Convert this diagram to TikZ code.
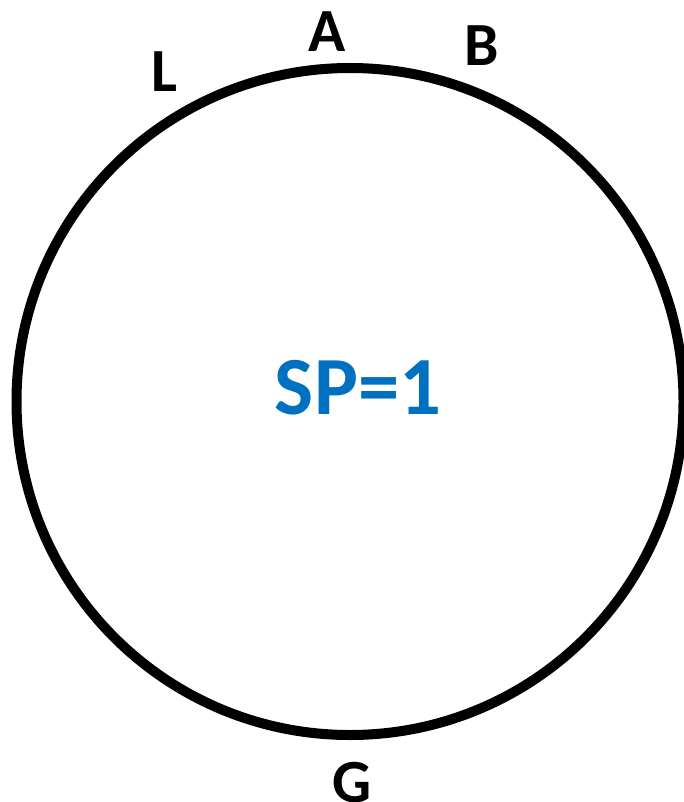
\documentclass[tikz,border=0pt]{standalone}
\usepackage{fontspec}
\setmainfont{Carlito}
\definecolor{spblue}{HTML}{0070C0}
\begin{document}
\begin{tikzpicture}[x=0.75pt,y=-0.75pt,
  lbl/.style={anchor=base,inner sep=0pt,font=\fontsize{46}{50}\selectfont\bfseries},
  ringstyle/.style={circle,draw=black,line width=7.5pt,inner sep=0pt,minimum size=500.25pt}]
  \useasboundingbox (0,0) rectangle (684,802);
  \clip (0,0) rectangle (684,802);
  % main ring
  \node[ringstyle] (ring) at (350,401.5) {};
  % centre value
  \node[lbl,text=spblue,font=\fontsize{62}{66}\selectfont\bfseries] (sp) at (358,414) {SP=1};
  % point labels around the ring
  \node[lbl] (L) at (164,92) {L};
  \node[lbl] (A) at (327,52) {A};
  \node[lbl] (B) at (482,66) {B};
  \node[lbl] (G) at (352,802) {G};
\end{tikzpicture}
\end{document}
